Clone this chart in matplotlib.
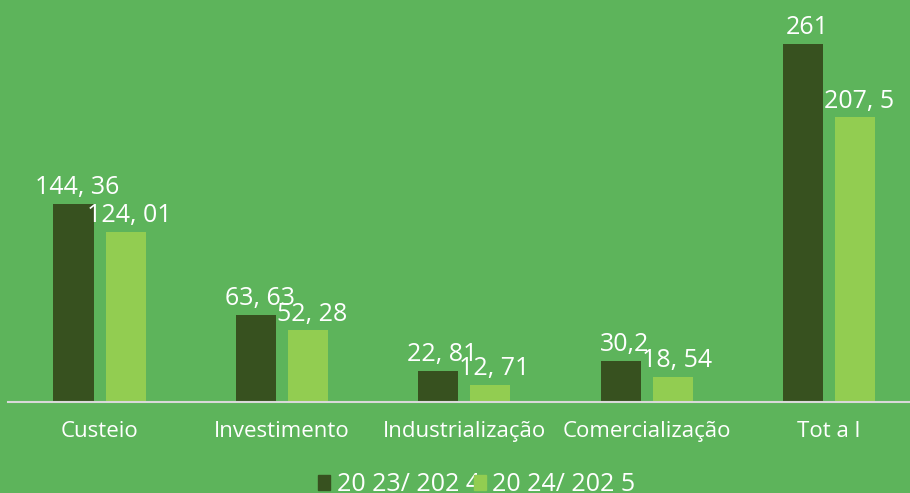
import numpy as np
import matplotlib.pyplot as plt
from matplotlib.patches import Patch

categories = ['Custeio', 'Investimento', 'Industrialização', 'Comercialização', 'Tot a l']
vals_2324 = [144.36, 63.63, 22.81, 30.2, 261]
vals_2425 = [124.01, 52.28, 12.71, 18.54, 207.5]
labels_2324 = ['144, 36', '63, 63', '22, 81', '30,2', '261']
labels_2425 = ['124, 01', '52, 28', '12, 71', '18, 54', '207, 5']
series_names = ['20 23/ 202 4', '20 24/ 202 5']

bg = '#5DB45B'
dark = '#37511F'
light = '#92CD51'

plt.rcParams['font.family'] = ['Open Sans', 'DejaVu Sans']

fig = plt.figure(figsize=(9.1, 4.93), dpi=100, facecolor=bg)
ax = fig.add_axes([8 / 910, 91 / 493, 902 / 910, 402 / 493])
ax.set_facecolor(bg)

x = np.arange(len(categories))
w = 0.22
off = 0.143
b1 = ax.bar(x - off, vals_2324, w, color=dark)
b2 = ax.bar(x + off, vals_2425, w, color=light)

# value labels just above each bar
for bars, labs in ((b1, labels_2324), (b2, labels_2425)):
  for r, t in zip(bars, labs):
    ax.annotate(t, (r.get_x() + r.get_width() / 2, r.get_height()),
                xytext=(3, 7), textcoords='offset points',
                ha='center', va='baseline', color='white', fontsize=18)

ax.set_xlim(-0.502, 4.444)
ax.set_ylim(0, 293)
for s in ['top', 'right', 'left']:
  ax.spines[s].set_visible(False)
ax.spines['bottom'].set_color('#D9D9D9')
ax.spines['bottom'].set_linewidth(1.5)
ax.set_yticks([])
ax.set_xticks(x)
ax.set_xticklabels(categories, color='white', fontsize=16)
ax.tick_params(axis='x', length=0, pad=14)

handles = [Patch(color=dark), Patch(color=light)]
fig.legend(handles, series_names, loc='lower center', bbox_to_anchor=(477 / 910, -0.008),
           ncol=2, frameon=False, fontsize=18, labelcolor='white',
           handlelength=0.48, handleheight=0.55, handletextpad=0.28,
           columnspacing=-0.28, borderpad=0, borderaxespad=0)

fig.savefig('out.png', dpi=100, facecolor=bg)
